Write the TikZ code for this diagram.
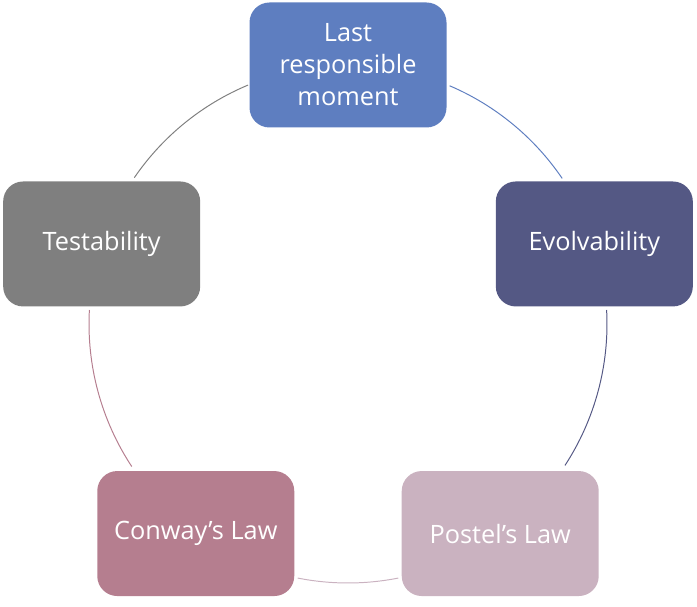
\documentclass[tikz,border=0pt]{standalone}
\usepackage{fontspec}
\setmainfont{Open Sans}
\usetikzlibrary{positioning,calc}
\definecolor{cTop}{HTML}{5E7EC0}
\definecolor{cEvo}{HTML}{545884}
\definecolor{cPos}{HTML}{CAB2C0}
\definecolor{cCon}{HTML}{B57E8F}
\definecolor{cTest}{HTML}{7F7F7F}
\tikzset{
  item/.style ={rectangle, rounded corners=0.5cm, draw=none, text=white,
                align=center, font=\fontsize{18pt}{22.8pt}\selectfont,
                minimum width=4.925cm, minimum height=3.125cm, inner sep=2pt},
  link/.style ={line width=0.7pt},
}

\begin{document}
\begin{tikzpicture}
  \useasboundingbox (0,0) rectangle (17.425,15.175);
  \coordinate (c) at (8.7,7.075);
  \node[item,fill=cTop]  (last) at ($(c)+(90:6.475)$)  {Last\\responsible\\moment};
  \node[item,fill=cEvo]  (evo)  at ($(c)+(18:6.475)$)  {Evolvability};
  \node[item,fill=cPos]  (pos)  at ($(c)+(-54:6.475)$) {Postel’s Law};
  \node[item,fill=cCon]  (con)  at ($(c)+(-126:6.475)$){Conway’s Law};
  \node[item,fill=cTest] (test) at ($(c)+(162:6.475)$) {Testability};
  % arcs on the circle between the boxes
  \foreach \a/\b/\col in {66.9/34.2/cTop, 3.1/-33.1/cEvo, -78.8/-101.2/cPos,
                          -146.6/-183.1/cCon, 145.6/112.7/cTest}
    \draw[link,draw=\col] ($(c)+(\a:6.475)$) arc[start angle=\a, end angle=\b, radius=6.475];
\end{tikzpicture}
\end{document}
